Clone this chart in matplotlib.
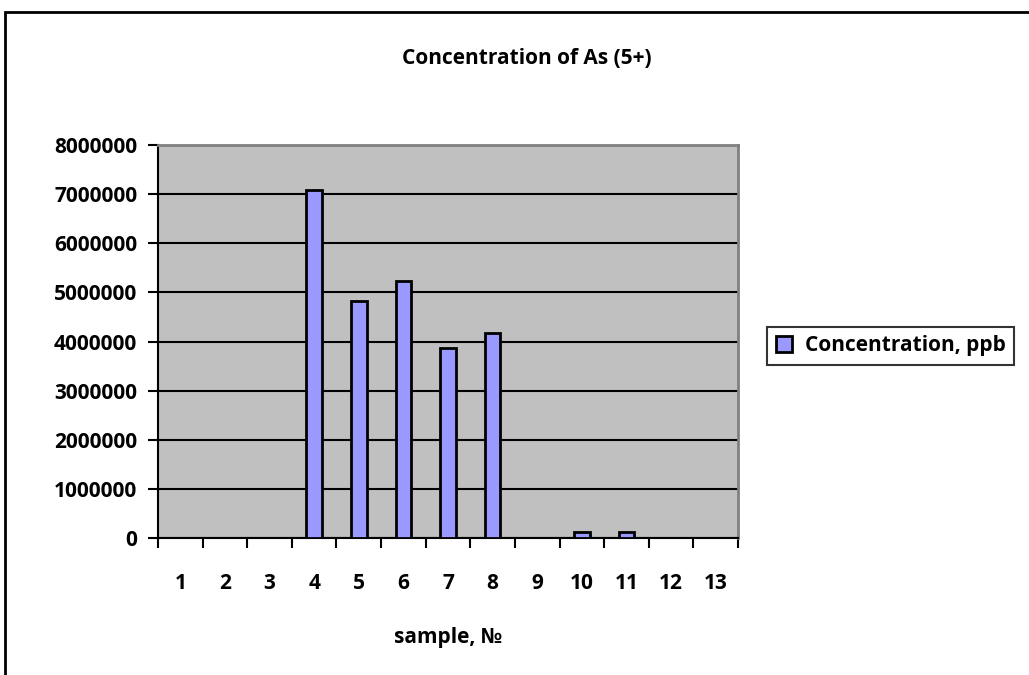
import matplotlib.pyplot as plt
from matplotlib.patches import Rectangle

samples = ['1', '2', '3', '4', '5', '6', '7', '8', '9', '10', '11', '12', '13']
concentration = [8000, 8000, 8000, 7080000, 4820000, 5230000, 3860000, 4170000,
                 8000, 120000, 120000, 8000, 8000]
yticks = [0, 1000000, 2000000, 3000000, 4000000, 5000000, 6000000, 7000000, 8000000]

plt.rcParams['font.family'] = ['Open Sans', 'DejaVu Sans']
plt.rcParams['font.weight'] = 'bold'

fig = plt.figure(figsize=(10.29, 6.75), dpi=100)
ax = fig.add_axes([158 / 1029, 1 - 538 / 675, 580 / 1029, 393 / 675])

# outer chart frame (cropped on right and bottom)
fig.patches.append(Rectangle((5 / 1029, -0.1), 1.2, 1 - 12 / 675 + 0.1,
                             transform=fig.transFigure, fill=False,
                             edgecolor='black', linewidth=2))

ax.set_facecolor('#C0C0C0')
x = range(len(samples))
bars = ax.bar(x, concentration, width=0.35, color='#9999FF', edgecolor='black',
              linewidth=2, label='Concentration, ppb', zorder=3)

ax.set_xlim(-0.5, len(samples) - 0.5)
ax.set_ylim(0, 8000000)
ax.set_yticks(yticks)
ax.set_yticklabels([str(v) for v in yticks])
ax.set_xticks(x)
ax.set_xticklabels(samples)
ax.set_xticks([i - 0.5 for i in range(len(samples) + 1)], minor=True)
ax.tick_params(axis='x', which='major', length=0, pad=25, labelsize=15)
ax.tick_params(axis='x', which='minor', length=7, width=1.5, direction='out')
ax.tick_params(axis='y', length=7, width=1.5, direction='out', labelsize=15, pad=8)
ax.grid(axis='y', color='black', linewidth=1.5, zorder=1)
ax.set_axisbelow(True)

for side in ['top', 'right']:
    ax.spines[side].set_color('#808080')
    ax.spines[side].set_linewidth(2)
for side in ['left', 'bottom']:
    ax.spines[side].set_linewidth(1.5)

ax.set_xlabel('sample, №', fontsize=15, fontweight='bold', labelpad=24)
fig.text(527 / 1029, 1 - 58 / 675, 'Concentration of As (5+)', ha='center',
         va='center', fontsize=15, fontweight='bold')

leg = ax.legend(loc='center left', bbox_to_anchor=(757 / 1029, 1 - 346 / 675),
                bbox_transform=fig.transFigure, fontsize=15, frameon=True,
                fancybox=False, edgecolor='black', handlelength=0.8,
                handleheight=0.8, borderpad=0.4, handletextpad=0.6)
leg.get_frame().set_linewidth(1.5)
for t in leg.get_texts():
    t.set_fontweight('bold')

fig.savefig('out.png', dpi=100)
